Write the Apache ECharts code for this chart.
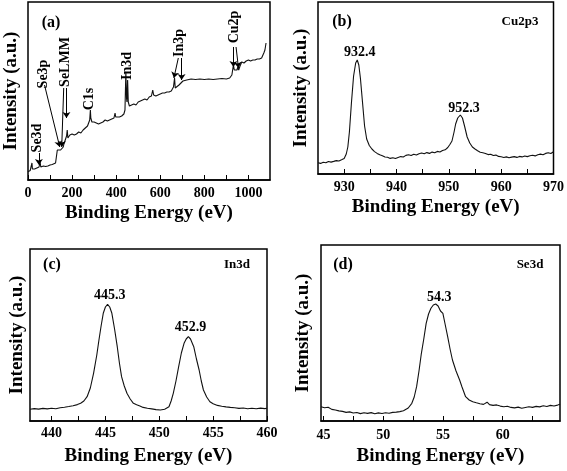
<!DOCTYPE html>
<html>
<head>
<meta charset="utf-8">
<script src="https://cdn.jsdelivr.net/npm/echarts@6/dist/echarts.min.js"></script>
<style>html,body{margin:0;padding:0;background:#fff}#c{width:567px;height:471px}</style>
</head>
<body>
<div id="c"></div>
<script>
// ---------- Panel (a): survey ----------
const surveyEnergy = [0,5,10,15,18,20,25,30,35,40,45,50,55,58,65,70,75,80,90,100,110,117,125,130,133,137,142,148,155,160,163,166,170,175,178,181,185,190,195,200,210,215,220,230,240,250,255,260,265,270,275,280,283,285,290,295,300,310,320,330,340,350,360,370,380,390,395,398,405,415,425,435,440,444,447,449,452,455,460,470,480,490,500,510,520,530,540,550,560,566,570,580,590,600,610,620,630,640,650,660,665,668,675,685,692,703,710,720,740,760,780,800,820,840,860,880,900,915,925,932,936,942,948,952,956,962,970,975,980,990,1000,1010,1020,1030,1040,1050,1060,1070,1075,1080];
const surveyIntensity = [8.3,9,9.5,10,17,11,10.5,11,11.5,12,12,13,18,13,13,14,16,13.5,14,15,15.5,17,17,18,30,32,31,30,31,33,36,34,37,44,50,42,44,45,44,46,45,47,46,48,47,50,49,52,51,54,56,60,70,62,58,57,58,57,56,57,58,60,59,60,61,62,67,63,62,63,64,66,70,108,82,78,100,78,74,75,76,75,78,79,80,81,80,83,84,90,85,84,85,86,87,87,88,88,89,93,102,92,93,95,97,99,100,100,101,100.5,101,100.5,101,100.5,101,101.5,101,102,105,115,110,108,110,113,110,114,118,120,117,119,120,119,120,120,121,121,122,127,130,137];
const surveyTicks = [0,100,200,300,400,500,600,700,800,900,1000];
const surveyLabels = [0,200,400,600,800,1000];
const surveyNames = ['Se3d','Se3p','SeLMM','C1s','In3d','In3p','Cu2p'];
const surveyNamePos = [[44,42],[71,106],[171,118],[280,81],[449,114],[685,137],[935,153]];
const surveyArrows = [[[49.5,27],[49.5,15]],[[75,95],[144,33]],[[174.5,92],[174.5,62]],[[162,92],[153,33]],[[682,122],[662,102]],[[697,122],[697,100]],[[932,133],[932,113]],[[944,133],[955,112]]];

// ---------- Panel (b): Cu2p3 ----------
const cuEnergy = [925,925.5,926,926.5,927,927.5,928,928.5,929,929.5,930,930.4,930.7,931,931.4,931.8,932.2,932.5,932.8,933.1,933.5,933.9,934.3,934.8,935.3,935.8,936.3,936.8,937.3,937.8,938.3,938.8,939.3,939.8,940.3,940.8,941.3,941.8,942.3,942.8,943.3,943.8,944.3,944.8,945.3,945.8,946.3,946.8,947.3,947.8,948.3,948.8,949.3,949.8,950.2,950.6,951,951.3,951.7,952.2,952.6,953,953.5,954,954.5,955,955.5,956,956.5,957,957.5,958,958.5,959,959.5,960,960.5,961,961.5,962,962.5,963,963.5,964,964.5,965,965.5,966,966.5,967,967.5,968,968.5,969,969.5,970];
const cuIntensity = [11.3,10.6,11.8,11.2,12.5,11.9,12.6,13.4,13,14.2,15.5,20,27,42,72,98,111,114,109,96,72,48,35,28.5,25,22.4,20.6,19.2,18.3,17,16.8,15.6,16.3,15.4,16.5,17.4,17,18.6,19.3,18.4,19.8,18.9,20.3,21,20.2,21.4,20.6,21.9,21.2,22.6,22,23.5,24.2,26.5,29.5,33,42,50,56,59,56,48,37,31,27,25,23.3,21.8,21.2,20.5,19.4,19.8,18.5,18.9,17.6,17.2,16.5,17.1,16.3,16.9,17.4,16.6,17.6,17.1,18,17.4,18.2,18.8,18.1,19.3,19.9,19.2,20.6,21.3,20.5,22.3];
const cuTicks = [930,935,940,945,950,955,960,965,970];
const cuLabels = [930,940,950,960,970];
const cuPeaks = ['932.4','952.3'];
const cuPeakPos = [[933,122],[952.9,66]];

// ---------- Panel (c): In3d ----------
const inEnergy = [438,438.4,438.8,439.2,439.6,440,440.4,440.8,441.2,441.6,442,442.4,442.7,443,443.3,443.6,443.9,444.2,444.4,444.6,444.8,445,445.2,445.4,445.6,445.85,446.1,446.3,446.5,446.75,447,447.3,447.6,447.9,448.2,448.5,448.9,449.3,449.7,450.1,450.5,450.9,451.1,451.3,451.55,451.8,452.05,452.3,452.5,452.7,452.9,453.2,453.45,453.7,453.9,454.1,454.4,454.7,455,455.4,455.8,456.2,456.6,457,457.4,457.8,458.2,458.6,459,459.4,459.8,460];
const inIntensity = [11.7,12.4,11.9,12.6,12.1,12.8,12.3,13.2,13.8,14.5,15.3,16.4,17.7,20,24.3,33,47.7,66,81,95,107.7,114,116.7,114,107.7,92,74.3,58,44.3,35,27.7,22,17.7,16.2,15,13.6,12.7,12.1,11.4,11,11.8,14.3,20,27.7,40,54.3,68,77.7,82,84.3,82,74.3,62,51,40,31,24,19.3,17.2,15.6,14.8,14.1,13.6,13.2,12.6,13,12.3,12.8,12.2,12.9,12.4,12.7];
const inTicks = [440,442.5,445,447.5,450,452.5,455,457.5,460];
const inLabels = [440,445,450,455,460];
const inPeaks = ['445.3','452.9'];
const inPeakPos = [[445.4,126],[452.9,94]];

// ---------- Panel (d): Se3d ----------
const seEnergy = [44.8,45.1,45.4,45.7,46,46.3,46.6,46.9,47.2,47.5,47.8,48.1,48.4,48.7,49,49.3,49.6,49.9,50.2,50.5,50.8,51.1,51.4,51.7,52.1,52.4,52.6,52.8,53,53.2,53.4,53.6,53.8,54,54.2,54.4,54.6,54.8,55,55.2,55.4,55.6,55.8,56.1,56.4,56.6,56.9,57.2,57.5,57.8,58.1,58.4,58.7,58.9,59.2,59.5,59.8,60.1,60.4,60.7,61,61.3,61.6,61.9,62.2,62.5,62.8,63.1,63.4,63.7,64,64.3,64.6,64.8];
const seIntensity = [14.3,13.2,13.8,11.6,11,10.1,9.6,8.6,9.1,8,8.5,7.4,8.2,7.6,8.4,7.3,8.1,7.5,8.3,7.8,8.6,8.9,9.4,10.3,13,17.7,24,34.3,50,67.7,82,97.7,107,112.7,116,117,115,110,107.7,96,84.3,72,61,50,41,34,24.3,21,19.3,18.2,17.3,16.6,18.8,16.4,15.6,16.1,14.9,14.2,14.8,13.6,13.1,13.9,12.8,13.5,14.2,13.6,14.6,14.1,15.2,14.5,15.6,15,15.9,16.7];
const seTicks = [45,47.5,50,52.5,55,57.5,60,62.5];
const seLabels = [45,50,55,60];
const sePeaks = ['54.3'];
const sePeakPos = [[54.7,124]];

const panelTags = ['(a)','(b)','(c)','(d)'];
const panelTitles = ['','Cu2p3','In3d','Se3d'];

const FONT = '"Liberation Serif","Times New Roman",serif';
const pairs = (xs, ys) => xs.map((x, i) => [x, ys[i]]);

const grids = [
  {left: 28, top: 2, width: 242, height: 178},
  {left: 318, top: 2, width: 239, height: 172},
  {left: 30, top: 249, width: 237, height: 172},
  {left: 321, top: 245, width: 239, height: 176}
].map(g => Object.assign({show: true, borderColor: '#000', borderWidth: 1.5, backgroundColor: 'transparent'}, g));

const xSpecs = [
  {min: 0, max: 1098, ticks: surveyTicks, labels: surveyLabels, nameGap: 24, margin: 6},
  {min: 925, max: 970, ticks: cuTicks, labels: cuLabels, nameGap: 24, margin: 6},
  {min: 438, max: 460, ticks: inTicks, labels: inLabels, nameGap: 26, margin: 5},
  {min: 44.8, max: 64.8, ticks: seTicks, labels: seLabels, nameGap: 26, margin: 7}
];
const ySpecs = [{max: 178, gap: 7}, {max: 172, gap: 7}, {max: 172, gap: 3}, {max: 176, gap: 8}];

const xAxes = xSpecs.map((s, i) => ({
  type: 'value', gridIndex: i, min: s.min, max: s.max,
  axisLine: {show: true, lineStyle: {color: '#000', width: 1.5}},
  axisTick: {show: true, inside: true, length: 5, customValues: s.ticks, lineStyle: {color: '#000', width: 1}},
  axisLabel: {customValues: s.labels, formatter: v => String(v), color: '#000', fontFamily: FONT, fontWeight: 'bold', fontSize: 14, margin: s.margin},
  splitLine: {show: false},
  name: 'Binding Energy (eV)', nameLocation: 'middle', nameGap: s.nameGap,
  nameTextStyle: {color: '#000', fontFamily: FONT, fontWeight: 'bold', fontSize: 19}
}));
const yAxes = ySpecs.map((s, i) => ({
  type: 'value', gridIndex: i, min: 0, max: s.max,
  axisLine: {show: false}, axisTick: {show: false}, axisLabel: {show: false}, splitLine: {show: false},
  name: 'Intensity (a.u.)', nameLocation: 'middle', nameGap: s.gap, nameRotate: 90,
  nameTextStyle: {color: '#000', fontFamily: FONT, fontWeight: 'bold', fontSize: 19}
}));

const textLabel = {show: true, position: 'inside', color: '#000', fontFamily: FONT, fontWeight: 'bold', fontSize: 14, formatter: '{b}'};
const peakMarks = (names, pos) => ({
  symbol: 'circle', symbolSize: 0, silent: true, label: textLabel,
  data: names.map((n, i) => ({name: n, coord: pos[i]}))
});
const lineStyle = {color: '#111', width: 1.1};

const series = [
  {
    type: 'line', xAxisIndex: 0, yAxisIndex: 0, data: pairs(surveyEnergy, surveyIntensity),
    showSymbol: false, lineStyle, silent: true,
    markPoint: {symbol: 'circle', symbolSize: 0, silent: true,
      label: Object.assign({}, textLabel, {rotate: 90}),
      data: surveyNames.map((n, i) => ({name: n, coord: surveyNamePos[i]}))},
    markLine: {silent: true, symbol: ['none', 'arrow'], symbolSize: 6, label: {show: false},
      lineStyle: {color: '#000', width: 1, type: 'solid'},
      data: surveyArrows.map(a => [{coord: a[0]}, {coord: a[1]}])}
  },
  {type: 'line', xAxisIndex: 1, yAxisIndex: 1, data: pairs(cuEnergy, cuIntensity), showSymbol: false, lineStyle, silent: true, markPoint: peakMarks(cuPeaks, cuPeakPos)},
  {type: 'line', xAxisIndex: 2, yAxisIndex: 2, data: pairs(inEnergy, inIntensity), showSymbol: false, lineStyle, silent: true, markPoint: peakMarks(inPeaks, inPeakPos)},
  {type: 'line', xAxisIndex: 3, yAxisIndex: 3, data: pairs(seEnergy, seIntensity), showSymbol: false, lineStyle, silent: true, markPoint: peakMarks(sePeaks, sePeakPos)}
];

const tagPos = [[51, 23], [342, 22], [52, 265], [343, 265]];
const titlePos = [[0, 0], [520, 22], [237, 265], [530, 265]];
const graphic = [];
panelTags.forEach((t, i) => graphic.push({type: 'text', x: tagPos[i][0], y: tagPos[i][1],
  style: {text: t, fill: '#000', font: 'bold 16px ' + FONT, align: 'center', verticalAlign: 'middle'}}));
panelTitles.forEach((t, i) => { if (t) graphic.push({type: 'text', x: titlePos[i][0], y: titlePos[i][1],
  style: {text: t, fill: '#000', font: 'bold 13px ' + FONT, align: 'center', verticalAlign: 'middle'}}); });

const chart = echarts.init(document.getElementById('c'), null, {renderer: 'canvas'});
chart.setOption({animation: false, backgroundColor: '#fff', grid: grids, xAxis: xAxes, yAxis: yAxes, series, graphic});
</script>
</body>
</html>
